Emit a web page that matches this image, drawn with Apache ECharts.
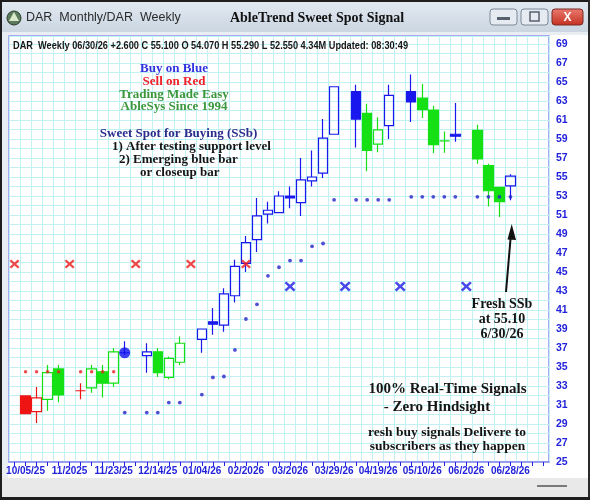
<!DOCTYPE html>
<html>
<head>
<meta charset="utf-8">
<title>AbleTrend Sweet Spot Signal</title>
<script src="https://cdn.jsdelivr.net/npm/echarts@6/dist/echarts.min.js"></script>
<style>
  html, body { margin: 0; padding: 0; background: #fff; }
  #main { width: 590px; height: 500px; }
</style>
</head>
<body>
<div id="main"></div>
<script>
// weekly bars, index 0 = 10/05/25 ; null = no bar that week
var tickLabels = ['10/05/25', '11/2025', '11/23/25', '12/14/25', '01/04/26', '02/2026',
  '03/2026', '03/29/26', '04/19/26', '05/10/26', '06/2026', '06/28/26'];

// R = sell (red), G = neutral (green), B = buy (blue)
var trend = ['R', 'R', 'G', 'G', null, 'R', 'G', 'G', 'G', 'B', null, 'B', 'G', 'G', 'G', null,
  'B', 'B', 'B', 'B', 'B', 'B', 'B', 'B', 'B', 'B', 'B', 'B', 'B', null,
  'B', 'G', 'G', 'B', null, 'B', 'G', 'G', 'G', 'B', null, 'G', 'G', 'G', 'B'];
var openP = [31.95, 30.3, 31.6, 34.8, null, 32.5, 32.8, 34.5, 33.3, 36.5, null, 36.2, 36.6, 33.9, 35.5, null,
  37.9, 39.75, 39.4, 42.5, 45.9, 48.4, 51.1, 51.25, 53.0, 52.3, 54.6, 55.4, 59.5, null,
  64.0, 61.7, 58.45, 60.4, null, 64.0, 63.3, 62.05, 58.8, 59.5, null, 59.9, 56.2, 53.9, 54.07];
var closeP = [30.1, 31.75, 34.4, 32.05, null, 32.5, 34.8, 33.3, 36.6, 36.5, null, 36.6, 34.4, 35.9, 37.5, null,
  39.0, 39.5, 42.7, 45.6, 48.1, 50.9, 51.5, 53.0, 52.8, 54.7, 55.0, 59.1, 64.5, null,
  61.1, 57.8, 59.95, 63.6, null, 62.9, 62.1, 58.4, 58.8, 59.3, null, 56.9, 53.55, 52.4, 55.10];
var lowP = [30.1, 29.1, 30.4, 31.3, null, 31.6, 32.3, 31.8, 32.9, 36.3, null, 34.4, 33.95, 33.7, 35.2, null,
  36.5, 38.4, 38.7, 41.8, 45.0, 47.1, 50.1, 51.2, 51.7, 50.9, 54.0, 54.9, 59.5, null,
  58.1, 55.6, 57.6, 59.0, null, 60.8, 61.2, 57.5, 57.55, 58.7, null, 56.4, 51.9, 50.8, 52.55];
var highP = [31.95, 32.9, 35.2, 35.2, null, 33.3, 35.2, 35.2, 37.0, 37.7, null, 37.5, 37.0, 36.1, 38.2, null,
  39.0, 41.2, 43.3, 46.3, 48.8, 52.8, 52.4, 53.5, 54.0, 57.0, 57.8, 61.1, 64.5, null,
  64.7, 62.7, 61.3, 64.7, null, 65.8, 64.8, 62.5, 59.8, 62.8, null, 60.5, 56.4, 53.9, 55.29];

// trailing stop dots
var supportDots = [null, null, null, null, null, null, null, null, null, 30.2, null, 30.2, 30.2, 31.25, 31.25, null,
  32.1, 33.9, 34.0, 36.8, 40.05, 41.6, 44.6, 45.5, 46.2, 46.2, 47.7, 48.0, 52.6, null,
  52.6, 52.6, 52.6, 52.6, null, 52.913, 52.913, 52.913, 52.913, 52.913, null, 52.913, 52.913, 52.913, 52.913];
var resistDots = [34.5, 34.5, 34.5, 34.5, null, 34.5, 34.5, 34.5, 34.5];

// X signals (bar index, level)
var sellXIdx = [-1, 4, 10, 15, 20];
var sellXLevel = 45.85;
var buyXIdx = [24, 29, 34, 40];
var buyXLevel = 43.482;
var ssbIdx = 9;
var ssbLevel = 36.5;
var lastClose = 55.100;
var stopLevel = 52.913;

var LEAD = 1, TRAIL = 3;
var nBars = openP.length;
var nCats = LEAD + nBars + TRAIL;

var colors = { R: '#ee1414', G: '#14e014', B: '#1818ee' };
var axisBlue = '#2222dd';
var gridCyan = '#c2f1f4';

var categories = [];
for (var k = 0; k < nCats; k++) {
  var b = k - LEAD;
  categories.push(b >= 0 && b % 4 === 0 && tickLabels[b / 4] ? tickLabels[b / 4] : '');
}

function padded(arr) {
  var out = [];
  for (var k = 0; k < nCats; k++) {
    var v = arr[k - LEAD];
    out.push(v == null ? '-' : v);
  }
  return out;
}

// up bars hollow, down bars filled, coloured by trend
var candleData = [];
for (var k = 0; k < nCats; k++) {
  var i = k - LEAD;
  if (openP[i] == null) { candleData.push('-'); continue; }
  var c = colors[trend[i]];
  var fill = closeP[i] > openP[i] ? 'rgba(255,255,255,0)' : c;
  candleData.push({
    value: [openP[i], closeP[i], lowP[i], highP[i]],
    itemStyle: { color: fill, color0: fill, borderColor: c, borderColor0: c, borderColorDoji: c }
  });
}

var xPath = 'path://M0,1.7L1.7,0L5,3.3L8.3,0L10,1.7L6.7,5L10,8.3L8.3,10L5,6.7L1.7,10L0,8.3L3.3,5Z';

var infoText = 'DAR  Weekly 06/30/26 +2.600 C 55.100 O 54.070 H 55.290 L 52.550 4.34M Updated: 08:30:49';
var infoFont = 'bold 10px "Liberation Sans", Arial, sans-serif';
var ctx = document.createElement('canvas').getContext('2d');
ctx.font = infoFont;
var infoScale = 395 / ctx.measureText(infoText).width;

var serifB = function (size) { return 'bold ' + size + 'px "Liberation Serif", "Times New Roman", serif'; };

function note(text, x, y, size, fill, align) {
  return {
    type: 'text', x: x, y: y, z: 50, silent: true,
    style: { text: text, font: serifB(size), fill: fill, textAlign: align || 'center', textVerticalAlign: 'middle' }
  };
}

var chart = echarts.init(document.getElementById('main'));

var option = {
  animation: false,
  backgroundColor: '#ffffff',
  grid: {
    left: 9, right: 41, top: 36, bottom: 38,
    show: true, borderColor: '#8c8cf0', borderWidth: 1.5
  },
  xAxis: {
    type: 'category',
    data: categories,
    boundaryGap: true,
    axisLine: { show: true, lineStyle: { color: '#8c8cf0', width: 1.5 } },
    axisTick: { show: true, alignWithLabel: true, interval: 0, length: 4, lineStyle: { color: axisBlue } },
    axisLabel: {
      interval: 0, margin: 4, color: axisBlue, fontSize: 10, fontWeight: 'bold',
      fontFamily: '"Liberation Sans", Arial, sans-serif'
    },
    splitLine: { show: true, interval: 0, lineStyle: { color: gridCyan, width: 1 } }
  },
  yAxis: {
    type: 'value',
    position: 'right',
    min: 25,
    max: 69.84,
    interval: 1,
    axisLine: { show: false },
    axisTick: { show: false },
    axisLabel: {
      margin: 7, color: axisBlue, fontSize: 10.5, fontWeight: 'bold',
      fontFamily: '"Liberation Sans", Arial, sans-serif',
      formatter: function (v) { return (Math.round(v) === v && (v - 25) % 2 === 0) ? String(v) : ''; }
    },
    splitLine: { show: true, lineStyle: { color: gridCyan, width: 1 } }
  },
  series: [
    {
      name: 'DAR',
      type: 'candlestick',
      barWidth: 10,
      itemStyle: { borderWidth: 1.2 },
      data: candleData,
      markLine: {
        silent: true,
        symbol: 'none',
        lineStyle: { opacity: 0 },
        label: {
          position: 'end', distance: 0,
          backgroundColor: '#1212e2', padding: [2, 3, 1, 3],
          fontSize: 10, fontWeight: 'bold', fontFamily: '"Liberation Sans", Arial, sans-serif'
        },
        data: [
          { yAxis: lastClose, label: { formatter: lastClose.toFixed(3), color: '#ffffff' } },
          { yAxis: stopLevel, label: { formatter: stopLevel.toFixed(3), color: '#ffffff' } },
          { yAxis: buyXLevel, label: { formatter: buyXLevel.toFixed(3), color: '#ffff99' } }
        ]
      }
    },
    {
      name: 'Resistance',
      type: 'scatter',
      symbol: 'circle',
      symbolSize: 3.5,
      itemStyle: { color: '#e82020' },
      data: padded(resistDots)
    },
    {
      name: 'Support',
      type: 'scatter',
      symbol: 'circle',
      symbolSize: 3.8,
      itemStyle: { color: '#2424c8' },
      data: padded(supportDots)
    },
    {
      name: 'Sell',
      type: 'scatter',
      symbol: xPath,
      symbolSize: [10, 9],
      itemStyle: { color: '#ee1c1c' },
      data: sellXIdx.map(function (i) { return [i + LEAD, sellXLevel]; })
    },
    {
      name: 'Buy',
      type: 'scatter',
      symbol: xPath,
      symbolSize: [11, 10],
      itemStyle: { color: '#1a1ae6' },
      data: buyXIdx.map(function (i) { return [i + LEAD, buyXLevel]; })
    },
    {
      name: 'SSb',
      type: 'scatter',
      symbol: 'circle',
      symbolSize: 11,
      itemStyle: { color: '#1010ee' },
      data: [[ssbIdx + LEAD, ssbLevel]]
    }
  ],
  graphic: [
    // window frame / title bar
    { type: 'rect', z: -1, silent: true, shape: { x: 0, y: 0, width: 590, height: 32 },
      style: { fill: new echarts.graphic.LinearGradient(0, 0, 0, 1, [
        { offset: 0, color: '#e3eaf1' }, { offset: 1, color: '#cbd6e2' }]) } },
    { type: 'rect', z: -1, silent: true, shape: { x: 0, y: 32, width: 590, height: 3 }, style: { fill: '#e9eef3' } },
    { type: 'rect', z: -1, silent: true, shape: { x: 0, y: 32, width: 8, height: 446 }, style: { fill: '#e9eef3' } },
    { type: 'rect', z: -1, silent: true, shape: { x: 0, y: 478, width: 590, height: 19 }, style: { fill: '#e9e9e9' } },
    { type: 'rect', z: 60, silent: true, shape: { x: 537, y: 485, width: 30, height: 2 }, style: { fill: '#7a7a7a' } },
    { type: 'rect', z: 60, silent: true, shape: { x: 0, y: 0, width: 590, height: 2 }, style: { fill: '#1e1e1e' } },
    { type: 'rect', z: 60, silent: true, shape: { x: 0, y: 0, width: 2, height: 500 }, style: { fill: '#1e1e1e' } },
    { type: 'rect', z: 60, silent: true, shape: { x: 588, y: 0, width: 2, height: 500 }, style: { fill: '#2a2a2a' } },
    { type: 'rect', z: 60, silent: true, shape: { x: 0, y: 497, width: 590, height: 3 }, style: { fill: '#1e1e1e' } },
    { type: 'circle', z: 60, silent: true, shape: { cx: 14, cy: 18, r: 7 },
      style: { fill: '#5b7a5b', stroke: '#2d3d2d', lineWidth: 1 } },
    { type: 'polygon', z: 61, silent: true, shape: { points: [[14, 12], [19, 21], [9, 21]] }, style: { fill: '#d8e8c8' } },
    { type: 'text', x: 26, y: 18, z: 60, silent: true,
      style: { text: 'DAR  Monthly/DAR  Weekly', font: '12.5px "Liberation Sans", Arial, sans-serif',
        fill: '#2a2a2a', textVerticalAlign: 'middle' } },
    { type: 'text', x: 317, y: 18, z: 60, silent: true,
      style: { text: 'AbleTrend Sweet Spot Signal', font: serifB(14), fill: '#111',
        textAlign: 'center', textVerticalAlign: 'middle' } },
    // window buttons
    { type: 'rect', z: 60, silent: true, shape: { x: 490, y: 9, width: 27, height: 16, r: 3 },
      style: { fill: '#e6ebf1', stroke: '#7d8898', lineWidth: 1 } },
    { type: 'rect', z: 61, silent: true, shape: { x: 497, y: 17, width: 13, height: 3 }, style: { fill: '#56606e' } },
    { type: 'rect', z: 60, silent: true, shape: { x: 521, y: 9, width: 27, height: 16, r: 3 },
      style: { fill: '#e6ebf1', stroke: '#7d8898', lineWidth: 1 } },
    { type: 'rect', z: 61, silent: true, shape: { x: 530, y: 12, width: 9, height: 9 },
      style: { fill: 'none', stroke: '#56606e', lineWidth: 1.5 } },
    { type: 'rect', z: 60, silent: true, shape: { x: 552, y: 9, width: 31, height: 16, r: 3 },
      style: { fill: new echarts.graphic.LinearGradient(0, 0, 0, 1, [
        { offset: 0, color: '#ea7b70' }, { offset: 1, color: '#c4301f' }]), stroke: '#7a2a25', lineWidth: 1 } },
    { type: 'text', x: 567.5, y: 17.5, z: 61, silent: true,
      style: { text: 'X', font: 'bold 12px "Liberation Sans", Arial, sans-serif', fill: '#fff',
        textAlign: 'center', textVerticalAlign: 'middle' } },
    // quote line
    { type: 'text', x: 13, y: 46, z: 50, silent: true, scaleX: infoScale,
      style: { text: infoText, font: infoFont, fill: '#151515', textVerticalAlign: 'middle' } },
    // notes
    note('Buy on Blue', 174, 69, 13, '#3232e0'),
    note('Sell on Red', 174, 82, 13, '#ee2028'),
    note('Trading Made Easy', 174, 95, 13, '#3c963c'),
    note('AbleSys Since 1994', 174, 107, 13, '#3c963c'),
    note('Sweet Spot for Buying (SSb)', 178.5, 134, 13, '#2c2c8c'),
    note('1) After testing support level', 112, 147, 13, '#151515', 'left'),
    note('2) Emerging blue bar', 119, 160, 13, '#151515', 'left'),
    note('or closeup bar', 140, 173, 13, '#151515', 'left'),
    note('Fresh SSb', 502, 304, 14, '#151515'),
    note('at 55.10', 502, 319, 14, '#151515'),
    note('6/30/26', 502, 334, 14, '#151515'),
    note('100% Real-Time Signals', 447.5, 389, 15, '#151515'),
    note('- Zero Hindsight', 437, 407, 15, '#151515'),
    note('resh buy signals Delivere to', 447, 433, 13.5, '#151515'),
    note('subscribers as they happen', 447.5, 447, 13.5, '#151515'),
    // arrow to the fresh SSb bar
    { type: 'line', z: 50, silent: true, shape: { x1: 506, y1: 292, x2: 510.6, y2: 238 },
      style: { stroke: '#111', lineWidth: 2 } },
    { type: 'polygon', z: 50, silent: true, shape: { points: [[511.7, 224], [516, 240], [507.5, 239.4]] },
      style: { fill: '#111' } }
  ]
};

chart.setOption(option);
</script>
</body>
</html>
